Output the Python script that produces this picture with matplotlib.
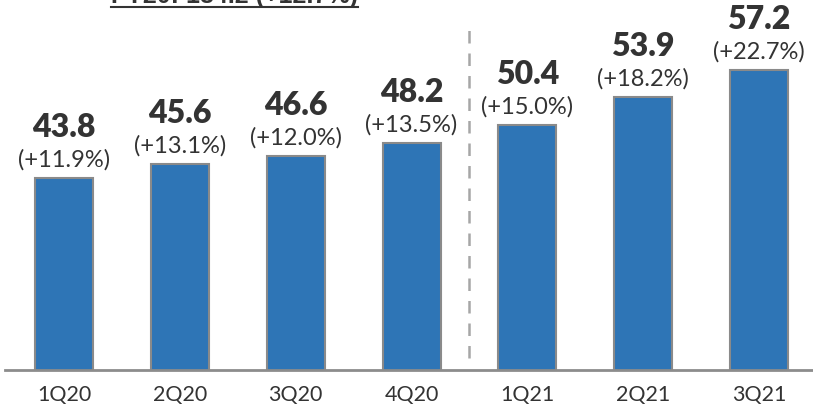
import matplotlib.pyplot as plt
from matplotlib.lines import Line2D

quarters = ['1Q20', '2Q20', '3Q20', '4Q20', '1Q21', '2Q21', '3Q21']
values = [43.8, 45.6, 46.6, 48.2, 50.4, 53.9, 57.2]
growth = ['(+11.9%)', '(+13.1%)', '(+12.0%)', '(+13.5%)', '(+15.0%)', '(+18.2%)', '(+22.7%)']
title = 'FY20: 184.2 (+12.7%)'

plt.rcParams['font.family'] = ['Lato', 'DejaVu Sans']

fig = plt.figure(figsize=(8.13, 4.09), dpi=100)
ax = fig.add_axes([5/813, 39/409, 808/813, 370/409])

x = list(range(len(quarters)))
ax.bar(x, values, width=0.5, color='#2E75B6', edgecolor='#8a8a8a', linewidth=1.5, zorder=2)

for i, v in enumerate(values):
    ax.annotate(f'{v:.1f}', (i, v), xytext=(0, 29.5), textcoords='offset points',
                ha='center', va='baseline', fontsize=23, fontweight='heavy', color='#333333')
    ax.annotate(growth[i], (i, v), xytext=(0, 8), textcoords='offset points',
                ha='center', va='baseline', fontsize=17, color='#333333')

# divider between 2020 and 2021
ax.plot([3.5, 3.5], [21.5, 62.4], color='#a6a6a6', linewidth=1.8, linestyle=(0, (5, 4)), zorder=1)

ax.set_xlim(-0.51, 6.466)
ax.set_ylim(20, 65.9)
ax.set_xticks(x)
ax.set_xticklabels(quarters, fontsize=15.5, color='#333333')
ax.tick_params(axis='x', length=0, pad=11)
ax.set_yticks([])
for s in ['top', 'right', 'left']:
    ax.spines[s].set_visible(False)
ax.spines['bottom'].set_color('#8c8c8c')
ax.spines['bottom'].set_linewidth(2)

# heading at the very top, clipped by the edge as in the source slide
t = fig.text(234.5/813, 1 - 3.5/409, title, ha='center', va='baseline', fontsize=18,
             fontweight='bold', family='Liberation Sans', color='#333333')
fig.canvas.draw()
bb = t.get_window_extent()
fig.add_artist(Line2D([bb.x0/813, bb.x1/813], [1 - 6.5/409, 1 - 6.5/409],
                      transform=fig.transFigure, color='#333333', linewidth=1.5))

fig.savefig('out.png', dpi=100)
